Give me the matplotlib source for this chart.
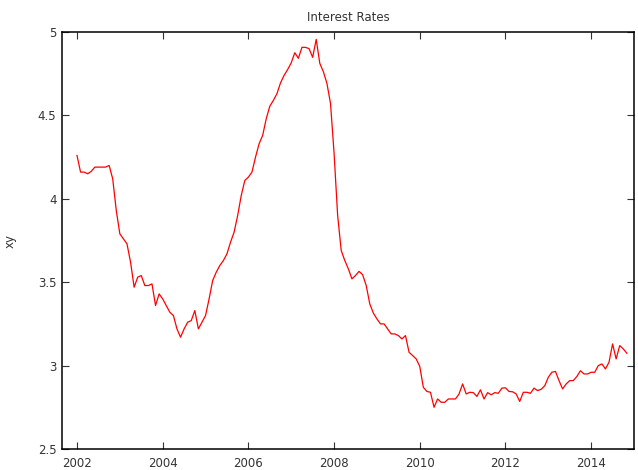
import numpy as np
import matplotlib.pyplot as plt
from matplotlib.ticker import FuncFormatter

OUTPUT_FIG = "out.png"

# Monthly rates, Jan 2002 .. Nov 2014
START_YEAR = 2002
RATES = [
    4.26, 4.16, 4.16, 4.15, 4.165, 4.19, 4.19, 4.19, 4.19, 4.20, 4.12, 3.93,
    3.79, 3.76, 3.73, 3.62, 3.47, 3.53, 3.54, 3.48, 3.48, 3.49, 3.36, 3.43,
    3.40, 3.36, 3.32, 3.30, 3.22, 3.17, 3.22, 3.26, 3.27, 3.33, 3.22, 3.26,
    3.30, 3.40, 3.51, 3.56, 3.60, 3.63, 3.67, 3.74, 3.80, 3.90, 4.02, 4.11,
    4.13, 4.16, 4.25, 4.33, 4.38, 4.48, 4.555, 4.59, 4.63, 4.695, 4.74, 4.775,
    4.815, 4.876, 4.842, 4.908, 4.908, 4.90, 4.848, 4.956, 4.812, 4.762, 4.692, 4.572,
    4.273, 3.90, 3.69, 3.63, 3.58, 3.52, 3.54, 3.565, 3.545, 3.48, 3.37, 3.315,
    3.28, 3.25, 3.25, 3.22, 3.19, 3.19, 3.18, 3.16, 3.18, 3.08, 3.06, 3.04,
    2.995, 2.87, 2.845, 2.84, 2.75, 2.80, 2.78, 2.78, 2.80, 2.80, 2.80, 2.83,
    2.89, 2.83, 2.84, 2.838, 2.815, 2.855, 2.80, 2.838, 2.825, 2.838, 2.834, 2.865,
    2.867, 2.845, 2.843, 2.83, 2.785, 2.84, 2.84, 2.834, 2.865, 2.85, 2.858, 2.879,
    2.93, 2.96, 2.965, 2.91, 2.86, 2.89, 2.91, 2.91, 2.935, 2.969, 2.95, 2.95,
    2.96, 2.96, 3.00, 3.01, 2.98, 3.02, 3.13, 3.04, 3.12, 3.10, 3.074,
]
X_TICKS = [2002, 2004, 2006, 2008, 2010, 2012, 2014]
Y_TICKS = [2.5, 3, 3.5, 4, 4.5, 5]


def main():
    years = START_YEAR + np.arange(len(RATES)) / 12.0

    fig = plt.figure(figsize=(6.38, 4.70), dpi=100)
    ax = fig.add_axes([62 / 638, 21 / 470, 572 / 638, 417 / 470])

    ax.plot(years, RATES, color="#ff0000", linewidth=0.9)

    ax.set_xlim(2001.65, 2015.0)
    ax.set_ylim(2.5, 5)
    ax.set_xticks(X_TICKS)
    ax.set_yticks(Y_TICKS)
    ax.yaxis.set_major_formatter(FuncFormatter(lambda v, _: f"{v:g}"))

    ax.tick_params(direction="in", length=5, width=0.8, colors="#333333",
                   labelsize=8.5, top=True, right=True, pad=4)
    ax.tick_params(axis="x", pad=6)
    for sp in ax.spines.values():
        sp.set_linewidth(1.1)
        sp.set_color("black")

    ax.set_title("Interest Rates", fontsize=8.5, color="#333333", pad=8)
    ax.set_ylabel("xy", fontsize=8.5, color="#333333")
    ax.yaxis.set_label_coords(-0.08, 0.5)

    plt.savefig(OUTPUT_FIG)


if __name__ == "__main__":
    main()
